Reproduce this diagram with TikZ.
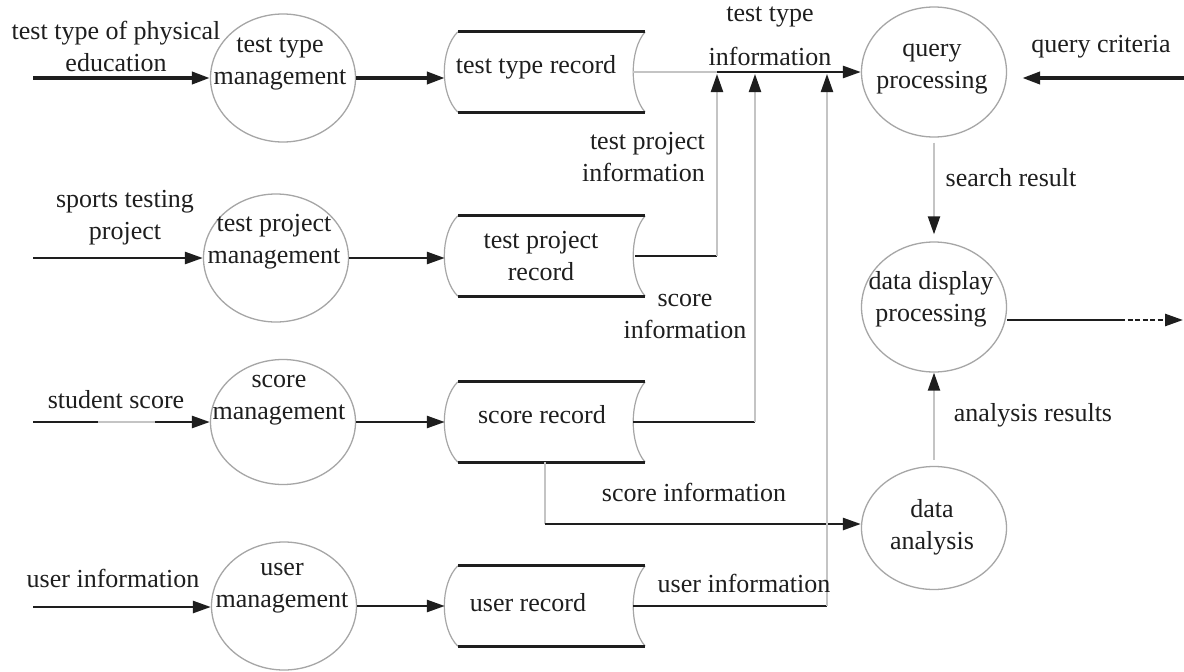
\documentclass[tikz,border=0pt]{standalone}
\usepackage{fontspec}
\setmainfont{Liberation Serif}
\usetikzlibrary{arrows.meta,shapes.geometric,calc}
\definecolor{ink}{HTML}{1E1E1E}
\definecolor{lgray}{HTML}{C4C4C4}
\definecolor{egray}{HTML}{A6A6A6}
\tikzset{
  txt/.style={font=\fontsize{26}{32}\selectfont, text=ink, inner sep=0pt, align=center},
  proc/.style={ellipse, draw=egray, line width=1.3pt, minimum width=145pt, minimum height=128pt, inner sep=0pt},
  store/.style={rectangle, minimum width=200pt, minimum height=80pt, inner sep=0pt},
  storeline/.style={draw=ink, line width=3.2pt},
  storeside/.style={draw=egray, line width=1.2pt},
  dark/.style={draw=ink, line width=2.6pt},
  heavy/.style={draw=ink, line width=3.8pt},
  pale/.style={draw=lgray, line width=2.2pt},
  tip/.style={-{Triangle[length=18pt,width=12pt,color=ink]}},
}
\newcommand\mystore[1]{%
  \draw[storeside] ($(#1.north west)+(13,0)$) .. controls ($(#1.north west)+(-5,18)$) and ($(#1.south west)+(-5,-18)$) .. ($(#1.south west)+(13,0)$);
  \draw[storeside] (#1.north east) .. controls ($(#1.north east)+(-16,18)$) and ($(#1.south east)+(-16,-18)$) .. (#1.south east);
  \draw[storeline] ($(#1.north west)+(13,0)$) -- (#1.north east);
  \draw[storeline] ($(#1.south west)+(13,0)$) -- (#1.south east);
}
\begin{document}
\begin{tikzpicture}[x=1pt,y=-1pt]
\useasboundingbox (0,0) rectangle (1184,672);
\fill[white] (0,0) rectangle (1184,672);

% processes
\node[proc] (ttm) at (283,78) {};
\node[proc] (tpm) at (276,258) {};
\node[proc, minimum height=125pt] (scm) at (283,422) {};
\node[proc] (um) at (284,606) {};
\node[proc, minimum height=130pt] (qp) at (934,72) {};
\node[proc, minimum height=130pt] (dd) at (934,307) {};
\node[proc, minimum height=123pt] (da) at (934,528) {};

\node[txt] (ttm-t) at (280,64) {test type\\management};
\node[txt] (tpm-t) at (274,242) {test project\\management};
\node[txt] (scm-t) at (279,400) {score\\management};
\node[txt] (um-t) at (282,588) {user\\management};
\node[txt] (qp-t) at (932,69) {query\\processing};
\node[txt] (dd-t) at (931,299) {data display\\processing};
\node[txt] (da-t) at (932,527) {data\\analysis};

% data stores
\node[store] (ttr) at (545,72) {};
\node[store] (tpr) at (545,256) {};
\node[store] (scr) at (545,422) {};
\node[store] (ur) at (545,606) {};
\mystore{ttr}\mystore{tpr}\mystore{scr}\mystore{ur}
\node[txt] (ttr-t) at (536,67) {test type record};
\node[txt] (tpr-t) at (541,256) {test project\\record};
\node[txt] (scr-t) at (542,415) {score record};
\node[txt] (ur-t) at (528,603) {user record};

% junctions
\coordinate (j1) at (717,72);
\coordinate (j2) at (755,72);
\coordinate (j3) at (827,72);

% row 1
\coordinate (in1) at (33,78);
\draw[heavy,tip] (in1) -- (ttm.west);
\draw[heavy,tip] (ttm.east) -- (ttm.east -| ttr.west);
\draw[pale] ([xshift=-12pt]ttr.east) -- (j1);
\draw[dark,tip] (j1) -- (qp.west);

% row 2
\coordinate (in2) at (33,258);
\draw[dark,tip] (in2) -- (tpm.west);
\draw[dark,tip] (tpm.east) -- (tpm.east -| tpr.west);
\draw[dark] ([xshift=-10pt]tpr.east) -- (tpr.east -| j1);
\draw[pale,tip] (tpr.east -| j1) -- ([yshift=-2pt]j1);

% row 3
\coordinate (in3) at (33,422);
\coordinate (g1) at (98,422);
\coordinate (g2) at (155,422);
\draw[dark] (in3) -- (g1);
\draw[pale] (g1) -- (g2);
\draw[dark,tip] (g2) -- (scm.west);
\draw[dark,tip] (scm.east) -- (scm.east -| scr.west);
\draw[dark] ([xshift=-12pt]scr.east) -- (scr.east -| j2);
\draw[pale,tip] (scr.east -| j2) -- ([yshift=-2pt]j2);
\coordinate (k) at (545,524);
\draw[pale] (scr.south) -- (k);
\draw[dark,tip] (k) -- (k -| da.west);

% row 4
\coordinate (in4) at (33,607);
\draw[dark,tip] (in4) -- (in4 -| um.west);
\draw[dark,tip] (um.east) -- (um.east -| ur.west);
\draw[dark] ([xshift=-12pt]ur.east) -- (ur.east -| j3);
\draw[pale,tip] (ur.east -| j3) -- ([yshift=-2pt]j3);

% right column
\coordinate (qin) at (1184,78);
\draw[heavy,tip,shorten >=15pt] (qin) -- (qin -| qp.east);
\draw[pale,tip] ([yshift=-5pt]qp.south) -- ([yshift=7pt]dd.north);
\coordinate (out) at (1183,320);
\coordinate (o1) at (1120,320);
\draw[dark] (out -| dd.east) -- (o1);
\draw[dark,tip,dash pattern=on 5pt off 2.5pt] (o1) -- (out);
\draw[pale,tip] ([yshift=6pt]da.north) -- (dd.south);

% labels
\node[txt] (l1) at (116,46) {test type of physical\\education};
\node[txt] (l2) at (770,36) {test type\\[12pt]information};
\node[txt, anchor=east, align=right] (l3) at (705,157) {test project\\information};
\node[txt] (l4) at (125,218) {sports testing\\project};
\node[txt] (l5) at (685,316) {score\\information};
\node[txt] (l6) at (116,400) {student score};
\node[txt] (l7) at (694,492) {score information};
\node[txt] (l8) at (113,578) {user information};
\node[txt] (l9) at (744,583) {user information};
\node[txt] (l10) at (1101,47) {query criteria};
\node[txt] (l11) at (1011,178) {search result};
\node[txt] (l12) at (1033,415) {analysis results};
\end{tikzpicture}
\end{document}
